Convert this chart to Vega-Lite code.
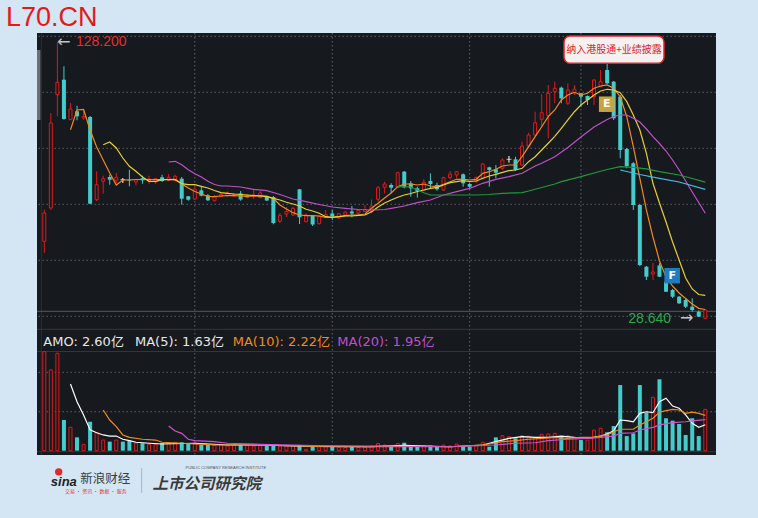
{
"$schema": "https://vega.github.io/schema/vega-lite/v6.json",
"width": 679, "height": 422,
"autosize": {"type": "none"},
"padding": {"left": 37, "top": 33, "right": 42, "bottom": 63},
"background": "#d4e6f4",
"config": {"view": {"fill": "#16191e", "stroke": null}},
"title": {"text": "L70.CN", "anchor": "start", "frame": "group", "dx": -31, "offset": 1, "color": "#e31a1a", "font": "Liberation Sans", "fontSize": 27, "fontWeight": "normal"},
"datasets": {
"k": [
{"i":0,"o":56.44,"h":67.82,"l":52.23,"c":66.63,"v":6.23,"d":"u","vd":"u"},
{"i":1,"o":68.43,"h":102.64,"l":67.71,"c":99.04,"v":5.08,"d":"u","vd":"u"},
{"i":2,"o":109.23,"h":128.2,"l":101.45,"c":113.69,"v":6.13,"d":"u","vd":"u"},
{"i":3,"o":114.63,"h":119.45,"l":100.23,"c":100.48,"v":1.93,"d":"d","vd":"d"},
{"i":4,"o":100.23,"h":106.24,"l":100.12,"c":104.08,"v":1.47,"d":"u","vd":"u"},
{"i":5,"o":103.25,"h":105.26,"l":100.01,"c":101.45,"v":0.84,"d":"d","vd":"d"},
{"i":6,"o":100.84,"h":103.25,"l":100.23,"c":101.38,"v":0.40,"d":"u","vd":"u"},
{"i":7,"o":101.20,"h":101.56,"l":69.87,"c":69.98,"v":1.82,"d":"d","vd":"d"},
{"i":8,"o":71.42,"h":81.64,"l":70.95,"c":76.82,"v":1.13,"d":"u","vd":"u"},
{"i":9,"o":78.04,"h":80.06,"l":73.58,"c":78.98,"v":0.67,"d":"u","vd":"u"},
{"i":10,"o":79.59,"h":80.42,"l":76.82,"c":78.62,"v":0.57,"d":"d","vd":"d"},
{"i":11,"o":78.40,"h":81.03,"l":77.43,"c":79.48,"v":0.67,"d":"u","vd":"u"},
{"i":12,"o":78.62,"h":79.23,"l":77.43,"c":78.62,"v":0.57,"d":"f","vd":"d"},
{"i":13,"o":78.69,"h":82.22,"l":76.24,"c":78.33,"v":0.63,"d":"d","vd":"d"},
{"i":14,"o":77.79,"h":78.69,"l":76.60,"c":78.62,"v":0.47,"d":"u","vd":"u"},
{"i":15,"o":79.12,"h":80.06,"l":77.18,"c":78.40,"v":0.47,"d":"d","vd":"d"},
{"i":16,"o":78.15,"h":80.06,"l":77.18,"c":78.87,"v":0.40,"d":"u","vd":"u"},
{"i":17,"o":77.79,"h":79.23,"l":77.18,"c":78.98,"v":0.40,"d":"u","vd":"u"},
{"i":18,"o":79.48,"h":80.42,"l":77.79,"c":78.15,"v":0.47,"d":"d","vd":"d"},
{"i":19,"o":78.40,"h":80.67,"l":78.04,"c":79.48,"v":0.47,"d":"u","vd":"u"},
{"i":20,"o":78.40,"h":80.42,"l":78.04,"c":79.84,"v":0.53,"d":"u","vd":"u"},
{"i":21,"o":78.98,"h":79.59,"l":69.62,"c":71.78,"v":0.53,"d":"d","vd":"d"},
{"i":22,"o":72.64,"h":72.75,"l":71.06,"c":71.42,"v":0.47,"d":"d","vd":"d"},
{"i":23,"o":71.67,"h":76.24,"l":71.31,"c":75.27,"v":0.47,"d":"u","vd":"u"},
{"i":24,"o":74.80,"h":75.99,"l":72.64,"c":72.86,"v":0.36,"d":"d","vd":"d"},
{"i":25,"o":73.00,"h":73.47,"l":70.95,"c":71.20,"v":0.36,"d":"d","vd":"d"},
{"i":26,"o":71.06,"h":73.11,"l":70.77,"c":72.57,"v":0.36,"d":"u","vd":"u"},
{"i":27,"o":72.64,"h":73.83,"l":72.39,"c":73.29,"v":0.36,"d":"u","vd":"u"},
{"i":28,"o":72.93,"h":74.37,"l":72.57,"c":73.83,"v":0.30,"d":"u","vd":"u"},
{"i":29,"o":72.75,"h":73.83,"l":72.39,"c":73.29,"v":0.36,"d":"u","vd":"u"},
{"i":30,"o":73.65,"h":74.55,"l":71.06,"c":71.49,"v":0.36,"d":"d","vd":"d"},
{"i":31,"o":72.21,"h":73.47,"l":71.85,"c":72.93,"v":0.36,"d":"u","vd":"u"},
{"i":32,"o":72.57,"h":75.09,"l":71.67,"c":73.11,"v":0.30,"d":"u","vd":"u"},
{"i":33,"o":72.21,"h":74.55,"l":71.85,"c":73.83,"v":0.36,"d":"u","vd":"u"},
{"i":34,"o":72.50,"h":72.93,"l":70.95,"c":71.13,"v":0.30,"d":"d","vd":"d"},
{"i":35,"o":72.39,"h":72.75,"l":62.56,"c":63.03,"v":0.30,"d":"d","vd":"d"},
{"i":36,"o":63.64,"h":66.63,"l":63.03,"c":65.80,"v":0.30,"d":"u","vd":"u"},
{"i":37,"o":66.27,"h":68.79,"l":65.19,"c":67.17,"v":0.30,"d":"u","vd":"u"},
{"i":38,"o":65.91,"h":68.90,"l":65.55,"c":68.32,"v":0.30,"d":"u","vd":"u"},
{"i":39,"o":75.16,"h":75.27,"l":62.67,"c":65.08,"v":0.36,"d":"d","vd":"d"},
{"i":40,"o":63.50,"h":66.45,"l":63.21,"c":65.91,"v":0.09,"d":"u","vd":"u"},
{"i":41,"o":65.55,"h":65.73,"l":61.95,"c":62.49,"v":0.25,"d":"d","vd":"d"},
{"i":42,"o":62.78,"h":65.73,"l":62.49,"c":65.44,"v":0.25,"d":"u","vd":"u"},
{"i":43,"o":65.08,"h":67.71,"l":64.83,"c":66.02,"v":0.25,"d":"u","vd":"u"},
{"i":44,"o":66.45,"h":67.71,"l":64.11,"c":65.37,"v":0.25,"d":"d","vd":"d"},
{"i":45,"o":64.83,"h":66.63,"l":64.47,"c":66.38,"v":0.22,"d":"u","vd":"u"},
{"i":46,"o":65.91,"h":67.35,"l":65.55,"c":66.99,"v":0.20,"d":"u","vd":"u"},
{"i":47,"o":67.17,"h":69.15,"l":65.08,"c":66.45,"v":0.25,"d":"d","vd":"d"},
{"i":48,"o":66.52,"h":68.07,"l":66.27,"c":67.60,"v":0.20,"d":"u","vd":"u"},
{"i":49,"o":67.17,"h":69.51,"l":66.99,"c":67.89,"v":0.22,"d":"u","vd":"u"},
{"i":50,"o":67.10,"h":71.49,"l":66.52,"c":69.15,"v":0.30,"d":"u","vd":"u"},
{"i":51,"o":71.56,"h":76.35,"l":70.70,"c":75.74,"v":0.45,"d":"u","vd":"u"},
{"i":52,"o":75.88,"h":77.90,"l":73.72,"c":77.07,"v":0.35,"d":"u","vd":"u"},
{"i":53,"o":76.71,"h":77.32,"l":73.72,"c":75.74,"v":0.28,"d":"d","vd":"d"},
{"i":54,"o":75.88,"h":81.50,"l":75.52,"c":81.14,"v":0.45,"d":"u","vd":"u"},
{"i":55,"o":81.50,"h":81.75,"l":75.52,"c":75.88,"v":0.50,"d":"d","vd":"d"},
{"i":56,"o":77.32,"h":78.15,"l":72.50,"c":75.52,"v":0.30,"d":"d","vd":"d"},
{"i":57,"o":75.52,"h":76.10,"l":72.14,"c":74.55,"v":0.28,"d":"d","vd":"d"},
{"i":58,"o":74.91,"h":78.87,"l":74.55,"c":77.68,"v":0.30,"d":"u","vd":"u"},
{"i":59,"o":78.15,"h":80.92,"l":75.52,"c":77.07,"v":0.32,"d":"d","vd":"d"},
{"i":60,"o":76.71,"h":77.54,"l":74.66,"c":75.16,"v":0.25,"d":"d","vd":"d"},
{"i":61,"o":74.91,"h":79.70,"l":74.55,"c":79.34,"v":0.35,"d":"u","vd":"u"},
{"i":62,"o":79.34,"h":81.75,"l":78.76,"c":80.67,"v":0.30,"d":"u","vd":"u"},
{"i":63,"o":80.31,"h":81.75,"l":79.12,"c":81.50,"v":0.42,"d":"u","vd":"u"},
{"i":64,"o":80.56,"h":80.85,"l":76.10,"c":77.32,"v":0.25,"d":"d","vd":"d"},
{"i":65,"o":77.07,"h":77.54,"l":75.16,"c":76.10,"v":0.25,"d":"d","vd":"d"},
{"i":66,"o":77.90,"h":79.70,"l":77.54,"c":79.48,"v":0.30,"d":"u","vd":"u"},
{"i":67,"o":79.12,"h":84.52,"l":78.76,"c":84.27,"v":0.53,"d":"u","vd":"u"},
{"i":68,"o":83.08,"h":83.30,"l":76.10,"c":82.11,"v":0.25,"d":"d","vd":"d"},
{"i":69,"o":82.36,"h":83.91,"l":79.12,"c":81.14,"v":0.84,"d":"d","vd":"d"},
{"i":70,"o":82.72,"h":86.32,"l":82.11,"c":85.71,"v":0.94,"d":"u","vd":"u"},
{"i":71,"o":85.96,"h":87.15,"l":84.74,"c":85.96,"v":0.88,"d":"f","vd":"u"},
{"i":72,"o":85.96,"h":86.90,"l":81.86,"c":82.11,"v":0.78,"d":"d","vd":"d"},
{"i":73,"o":83.91,"h":92.30,"l":83.55,"c":90.75,"v":0.94,"d":"u","vd":"u"},
{"i":74,"o":90.75,"h":95.54,"l":89.93,"c":94.71,"v":0.92,"d":"u","vd":"u"},
{"i":75,"o":94.71,"h":103.10,"l":94.35,"c":99.14,"v":0.84,"d":"u","vd":"u"},
{"i":76,"o":100.37,"h":109.37,"l":97.70,"c":102.74,"v":1.03,"d":"u","vd":"u"},
{"i":77,"o":101.74,"h":112.72,"l":93.53,"c":109.73,"v":1.05,"d":"u","vd":"u"},
{"i":78,"o":110.33,"h":113.93,"l":106.13,"c":111.55,"v":1.09,"d":"u","vd":"u"},
{"i":79,"o":111.75,"h":112.11,"l":106.13,"c":107.93,"v":0.92,"d":"d","vd":"d"},
{"i":80,"o":106.13,"h":113.33,"l":105.52,"c":110.92,"v":0.94,"d":"u","vd":"u"},
{"i":81,"o":109.95,"h":112.72,"l":109.12,"c":111.17,"v":0.84,"d":"u","vd":"u"},
{"i":82,"o":109.73,"h":109.84,"l":104.90,"c":108.51,"v":0.67,"d":"d","vd":"d"},
{"i":83,"o":108.75,"h":108.93,"l":105.52,"c":107.32,"v":0.67,"d":"d","vd":"u"},
{"i":84,"o":108.51,"h":114.78,"l":105.52,"c":114.52,"v":1.30,"d":"u","vd":"u"},
{"i":85,"o":112.11,"h":118.11,"l":112.00,"c":113.91,"v":1.41,"d":"u","vd":"u"},
{"i":86,"o":118.11,"h":120.52,"l":113.08,"c":113.33,"v":1.16,"d":"d","vd":"d"},
{"i":87,"o":113.91,"h":114.16,"l":100.12,"c":100.73,"v":1.55,"d":"d","vd":"d"},
{"i":88,"o":108.51,"h":109.12,"l":86.32,"c":89.31,"v":4.13,"d":"d","vd":"d"},
{"i":89,"o":89.67,"h":90.03,"l":82.72,"c":83.55,"v":0.92,"d":"d","vd":"d"},
{"i":90,"o":84.52,"h":84.99,"l":67.71,"c":69.51,"v":1.09,"d":"d","vd":"d"},
{"i":91,"o":69.51,"h":69.87,"l":47.55,"c":47.91,"v":4.13,"d":"d","vd":"d"},
{"i":92,"o":47.29,"h":47.55,"l":42.50,"c":43.69,"v":2.39,"d":"d","vd":"d"},
{"i":93,"o":44.66,"h":48.63,"l":42.50,"c":45.38,"v":3.36,"d":"u","vd":"u"},
{"i":94,"o":47.73,"h":48.52,"l":43.58,"c":43.69,"v":4.49,"d":"d","vd":"d"},
{"i":95,"o":41.89,"h":42.14,"l":38.18,"c":38.29,"v":2.04,"d":"d","vd":"d"},
{"i":96,"o":38.90,"h":39.26,"l":36.02,"c":36.49,"v":1.89,"d":"d","vd":"d"},
{"i":97,"o":36.49,"h":36.74,"l":33.86,"c":34.11,"v":1.68,"d":"d","vd":"d"},
{"i":98,"o":35.30,"h":35.92,"l":32.42,"c":32.89,"v":0.99,"d":"d","vd":"d"},
{"i":99,"o":32.89,"h":35.92,"l":31.09,"c":31.70,"v":2.04,"d":"d","vd":"d"},
{"i":100,"o":31.09,"h":31.53,"l":29.18,"c":29.29,"v":0.92,"d":"d","vd":"d"},
{"i":101,"o":28.71,"h":31.70,"l":28.64,"c":31.70,"v":2.60,"d":"u","vd":"u"}
],
"ma": [
{"i":4,"k":"MA5","p":96.62},{"i":5,"k":"MA5","p":103.72},{"i":6,"k":"MA5","p":103.90},{"i":7,"k":"MA5","p":96.51},{"i":8,"k":"MA5","p":90.39},{"i":9,"k":"MA5","p":85.71},{"i":10,"k":"MA5","p":81.03},{"i":11,"k":"MA5","p":76.71},{"i":12,"k":"MA5","p":78.51},{"i":13,"k":"MA5","p":78.51},{"i":14,"k":"MA5","p":78.69},{"i":15,"k":"MA5","p":78.69},{"i":16,"k":"MA5","p":78.69},{"i":17,"k":"MA5","p":78.69},{"i":18,"k":"MA5","p":78.69},{"i":19,"k":"MA5","p":78.69},{"i":20,"k":"MA5","p":78.76},{"i":21,"k":"MA5","p":77.07},{"i":22,"k":"MA5","p":75.63},{"i":23,"k":"MA5","p":74.37},{"i":24,"k":"MA5","p":73.47},{"i":25,"k":"MA5","p":72.57},{"i":26,"k":"MA5","p":72.50},{"i":27,"k":"MA5","p":72.75},{"i":28,"k":"MA5","p":72.90},{"i":29,"k":"MA5","p":72.90},{"i":30,"k":"MA5","p":72.75},{"i":31,"k":"MA5","p":72.60},{"i":32,"k":"MA5","p":72.80},{"i":33,"k":"MA5","p":72.90},{"i":34,"k":"MA5","p":72.60},{"i":35,"k":"MA5","p":71.92},{"i":36,"k":"MA5","p":69.51},{"i":37,"k":"MA5","p":68.07},{"i":38,"k":"MA5","p":66.74},{"i":39,"k":"MA5","p":65.91},{"i":40,"k":"MA5","p":65.66},{"i":41,"k":"MA5","p":65.66},{"i":42,"k":"MA5","p":65.55},{"i":43,"k":"MA5","p":65.08},{"i":44,"k":"MA5","p":65.08},{"i":45,"k":"MA5","p":65.30},{"i":46,"k":"MA5","p":65.66},{"i":47,"k":"MA5","p":65.91},{"i":48,"k":"MA5","p":65.91},{"i":49,"k":"MA5","p":66.27},{"i":50,"k":"MA5","p":68.32},{"i":51,"k":"MA5","p":70.12},{"i":52,"k":"MA5","p":72.03},{"i":53,"k":"MA5","p":73.83},{"i":54,"k":"MA5","p":76.10},{"i":55,"k":"MA5","p":77.07},{"i":56,"k":"MA5","p":77.07},{"i":57,"k":"MA5","p":76.71},{"i":58,"k":"MA5","p":77.07},{"i":59,"k":"MA5","p":76.35},{"i":60,"k":"MA5","p":76.10},{"i":61,"k":"MA5","p":76.96},{"i":62,"k":"MA5","p":77.90},{"i":63,"k":"MA5","p":78.76},{"i":64,"k":"MA5","p":78.76},{"i":65,"k":"MA5","p":78.51},{"i":66,"k":"MA5","p":78.76},{"i":67,"k":"MA5","p":80.92},{"i":68,"k":"MA5","p":81.50},{"i":69,"k":"MA5","p":82.36},{"i":70,"k":"MA5","p":83.55},{"i":71,"k":"MA5","p":83.91},{"i":72,"k":"MA5","p":83.91},{"i":73,"k":"MA5","p":86.90},{"i":74,"k":"MA5","p":90.50},{"i":75,"k":"MA5","p":94.10},{"i":76,"k":"MA5","p":97.70},{"i":77,"k":"MA5","p":101.30},{"i":78,"k":"MA5","p":103.72},{"i":79,"k":"MA5","p":107.32},{"i":80,"k":"MA5","p":109.12},{"i":81,"k":"MA5","p":110.09},{"i":82,"k":"MA5","p":109.12},{"i":83,"k":"MA5","p":109.73},{"i":84,"k":"MA5","p":111.53},{"i":85,"k":"MA5","p":112.36},{"i":86,"k":"MA5","p":112.72},{"i":87,"k":"MA5","p":111.53},{"i":88,"k":"MA5","p":108.51},{"i":89,"k":"MA5","p":101.30},{"i":90,"k":"MA5","p":90.50},{"i":91,"k":"MA5","p":79.10},{"i":92,"k":"MA5","p":67.71},{"i":93,"k":"MA5","p":57.99},{"i":94,"k":"MA5","p":49.35},{"i":95,"k":"MA5","p":43.58},{"i":96,"k":"MA5","p":40.34},{"i":97,"k":"MA5","p":37.82},{"i":98,"k":"MA5","p":35.84},{"i":99,"k":"MA5","p":33.86},{"i":100,"k":"MA5","p":32.31},{"i":101,"k":"MA5","p":31.88},
{"i":9,"k":"MA10","p":91.22},{"i":10,"k":"MA10","p":92.19},{"i":11,"k":"MA10","p":90.03},{"i":12,"k":"MA10","p":86.43},{"i":13,"k":"MA10","p":83.44},{"i":14,"k":"MA10","p":81.64},{"i":15,"k":"MA10","p":79.59},{"i":16,"k":"MA10","p":78.04},{"i":17,"k":"MA10","p":78.04},{"i":18,"k":"MA10","p":78.62},{"i":19,"k":"MA10","p":78.62},{"i":20,"k":"MA10","p":78.62},{"i":21,"k":"MA10","p":77.18},{"i":22,"k":"MA10","p":76.82},{"i":23,"k":"MA10","p":76.82},{"i":24,"k":"MA10","p":76.24},{"i":25,"k":"MA10","p":75.63},{"i":26,"k":"MA10","p":74.73},{"i":27,"k":"MA10","p":73.94},{"i":28,"k":"MA10","p":73.72},{"i":29,"k":"MA10","p":73.47},{"i":30,"k":"MA10","p":73.29},{"i":31,"k":"MA10","p":73.11},{"i":32,"k":"MA10","p":72.93},{"i":33,"k":"MA10","p":72.75},{"i":34,"k":"MA10","p":72.50},{"i":35,"k":"MA10","p":71.92},{"i":36,"k":"MA10","p":71.31},{"i":37,"k":"MA10","p":70.48},{"i":38,"k":"MA10","p":69.87},{"i":39,"k":"MA10","p":69.15},{"i":40,"k":"MA10","p":67.96},{"i":41,"k":"MA10","p":67.35},{"i":42,"k":"MA10","p":66.52},{"i":43,"k":"MA10","p":65.30},{"i":44,"k":"MA10","p":65.08},{"i":45,"k":"MA10","p":65.30},{"i":46,"k":"MA10","p":65.55},{"i":47,"k":"MA10","p":65.55},{"i":48,"k":"MA10","p":65.80},{"i":49,"k":"MA10","p":65.91},{"i":50,"k":"MA10","p":67.10},{"i":51,"k":"MA10","p":68.79},{"i":52,"k":"MA10","p":70.23},{"i":53,"k":"MA10","p":71.31},{"i":54,"k":"MA10","p":72.28},{"i":55,"k":"MA10","p":73.11},{"i":56,"k":"MA10","p":73.65},{"i":57,"k":"MA10","p":74.37},{"i":58,"k":"MA10","p":74.91},{"i":59,"k":"MA10","p":75.52},{"i":60,"k":"MA10","p":75.88},{"i":61,"k":"MA10","p":76.71},{"i":62,"k":"MA10","p":77.54},{"i":63,"k":"MA10","p":77.90},{"i":64,"k":"MA10","p":78.26},{"i":65,"k":"MA10","p":77.97},{"i":66,"k":"MA10","p":78.15},{"i":67,"k":"MA10","p":79.12},{"i":68,"k":"MA10","p":79.95},{"i":69,"k":"MA10","p":80.56},{"i":70,"k":"MA10","p":81.28},{"i":71,"k":"MA10","p":81.86},{"i":72,"k":"MA10","p":82.11},{"i":73,"k":"MA10","p":82.72},{"i":74,"k":"MA10","p":85.10},{"i":75,"k":"MA10","p":86.90},{"i":76,"k":"MA10","p":89.31},{"i":77,"k":"MA10","p":91.73},{"i":78,"k":"MA10","p":94.25},{"i":79,"k":"MA10","p":97.13},{"i":80,"k":"MA10","p":100.12},{"i":81,"k":"MA10","p":103.10},{"i":82,"k":"MA10","p":105.52},{"i":83,"k":"MA10","p":107.32},{"i":84,"k":"MA10","p":109.12},{"i":85,"k":"MA10","p":110.56},{"i":86,"k":"MA10","p":111.17},{"i":87,"k":"MA10","p":110.92},{"i":88,"k":"MA10","p":109.95},{"i":89,"k":"MA10","p":106.71},{"i":90,"k":"MA10","p":101.92},{"i":91,"k":"MA10","p":96.51},{"i":92,"k":"MA10","p":88.12},{"i":93,"k":"MA10","p":77.32},{"i":94,"k":"MA10","p":70.23},{"i":95,"k":"MA10","p":63.39},{"i":96,"k":"MA10","p":56.19},{"i":97,"k":"MA10","p":49.71},{"i":98,"k":"MA10","p":43.22},{"i":99,"k":"MA10","p":39.27},{"i":100,"k":"MA10","p":37.29},{"i":101,"k":"MA10","p":37.00},
{"i":19,"k":"MA20","p":84.99},{"i":20,"k":"MA20","p":85.24},{"i":21,"k":"MA20","p":84.03},{"i":22,"k":"MA20","p":82.22},{"i":23,"k":"MA20","p":80.78},{"i":24,"k":"MA20","p":79.59},{"i":25,"k":"MA20","p":78.04},{"i":26,"k":"MA20","p":76.89},{"i":27,"k":"MA20","p":76.35},{"i":28,"k":"MA20","p":76.35},{"i":30,"k":"MA20","p":75.99},{"i":32,"k":"MA20","p":75.16},{"i":34,"k":"MA20","p":74.66},{"i":36,"k":"MA20","p":73.29},{"i":38,"k":"MA20","p":71.67},{"i":40,"k":"MA20","p":70.70},{"i":42,"k":"MA20","p":69.69},{"i":44,"k":"MA20","p":68.79},{"i":46,"k":"MA20","p":68.32},{"i":48,"k":"MA20","p":67.89},{"i":50,"k":"MA20","p":67.71},{"i":52,"k":"MA20","p":67.89},{"i":53,"k":"MA20","p":68.32},{"i":55,"k":"MA20","p":69.15},{"i":57,"k":"MA20","p":70.34},{"i":59,"k":"MA20","p":71.31},{"i":61,"k":"MA20","p":73.11},{"i":63,"k":"MA20","p":74.30},{"i":65,"k":"MA20","p":75.52},{"i":67,"k":"MA20","p":77.32},{"i":69,"k":"MA20","p":78.76},{"i":71,"k":"MA20","p":79.70},{"i":73,"k":"MA20","p":80.92},{"i":75,"k":"MA20","p":83.55},{"i":76,"k":"MA20","p":84.52},{"i":78,"k":"MA20","p":86.90},{"i":80,"k":"MA20","p":90.21},{"i":82,"k":"MA20","p":93.99},{"i":84,"k":"MA20","p":97.59},{"i":86,"k":"MA20","p":100.30},{"i":87,"k":"MA20","p":101.38},{"i":88,"k":"MA20","p":101.92},{"i":89,"k":"MA20","p":101.92},{"i":90,"k":"MA20","p":100.73},{"i":91,"k":"MA20","p":99.40},{"i":92,"k":"MA20","p":96.87},{"i":93,"k":"MA20","p":94.10},{"i":94,"k":"MA20","p":91.65},{"i":95,"k":"MA20","p":88.95},{"i":96,"k":"MA20","p":85.71},{"i":97,"k":"MA20","p":82.11},{"i":98,"k":"MA20","p":78.15},{"i":99,"k":"MA20","p":74.19},{"i":100,"k":"MA20","p":70.41},{"i":101,"k":"MA20","p":66.52},
{"i":54,"k":"MA60","p":76.10},{"i":56,"k":"MA60","p":75.99},{"i":58,"k":"MA60","p":73.94},{"i":59,"k":"MA60","p":73.11},{"i":62,"k":"MA60","p":73.11},{"i":66,"k":"MA60","p":73.11},{"i":68,"k":"MA60","p":73.29},{"i":70,"k":"MA60","p":73.72},{"i":73,"k":"MA60","p":73.94},{"i":74,"k":"MA60","p":74.55},{"i":76,"k":"MA60","p":75.81},{"i":78,"k":"MA60","p":77.07},{"i":79,"k":"MA60","p":77.90},{"i":82,"k":"MA60","p":79.70},{"i":84,"k":"MA60","p":81.03},{"i":86,"k":"MA60","p":82.29},{"i":88,"k":"MA60","p":83.30},{"i":90,"k":"MA60","p":83.08},{"i":92,"k":"MA60","p":82.54},{"i":94,"k":"MA60","p":81.50},{"i":97,"k":"MA60","p":80.31},{"i":99,"k":"MA60","p":79.05},{"i":101,"k":"MA60","p":77.72},
{"i":88,"k":"MA120","p":82.11},{"i":91,"k":"MA120","p":80.49},{"i":94,"k":"MA120","p":79.12},{"i":97,"k":"MA120","p":77.79},{"i":101,"k":"MA120","p":75.16}
],
"vma": [
{"i":4,"k":"VMA5","v":4.19},{"i":5,"k":"VMA5","v":3.08},{"i":6,"k":"VMA5","v":2.25},{"i":7,"k":"VMA5","v":1.31},{"i":8,"k":"VMA5","v":1.13},{"i":9,"k":"VMA5","v":0.99},{"i":10,"k":"VMA5","v":0.92},{"i":11,"k":"VMA5","v":0.92},{"i":12,"k":"VMA5","v":0.72},{"i":13,"k":"VMA5","v":0.63},{"i":14,"k":"VMA5","v":0.53},{"i":16,"k":"VMA5","v":0.47},{"i":18,"k":"VMA5","v":0.42},{"i":23,"k":"VMA5","v":0.47},{"i":28,"k":"VMA5","v":0.36},{"i":33,"k":"VMA5","v":0.36},{"i":38,"k":"VMA5","v":0.30},{"i":43,"k":"VMA5","v":0.27},{"i":50,"k":"VMA5","v":0.26},{"i":55,"k":"VMA5","v":0.33},{"i":62,"k":"VMA5","v":0.25},{"i":67,"k":"VMA5","v":0.36},{"i":69,"k":"VMA5","v":0.57},{"i":71,"k":"VMA5","v":0.78},{"i":73,"k":"VMA5","v":0.88},{"i":75,"k":"VMA5","v":0.84},{"i":77,"k":"VMA5","v":0.84},{"i":79,"k":"VMA5","v":0.92},{"i":81,"k":"VMA5","v":0.84},{"i":83,"k":"VMA5","v":0.78},{"i":85,"k":"VMA5","v":0.92},{"i":86,"k":"VMA5","v":1.05},{"i":87,"k":"VMA5","v":1.25},{"i":88,"k":"VMA5","v":1.93},{"i":89,"k":"VMA5","v":1.89},{"i":90,"k":"VMA5","v":1.82},{"i":91,"k":"VMA5","v":2.35},{"i":92,"k":"VMA5","v":2.45},{"i":93,"k":"VMA5","v":2.39},{"i":94,"k":"VMA5","v":3.08},{"i":95,"k":"VMA5","v":3.30},{"i":96,"k":"VMA5","v":2.81},{"i":97,"k":"VMA5","v":2.67},{"i":98,"k":"VMA5","v":2.25},{"i":99,"k":"VMA5","v":1.72},{"i":100,"k":"VMA5","v":1.47},{"i":101,"k":"VMA5","v":1.63},
{"i":9,"k":"VMA10","v":2.56},{"i":10,"k":"VMA10","v":1.93},{"i":11,"k":"VMA10","v":1.51},{"i":12,"k":"VMA10","v":0.99},{"i":13,"k":"VMA10","v":0.84},{"i":15,"k":"VMA10","v":0.72},{"i":17,"k":"VMA10","v":0.67},{"i":18,"k":"VMA10","v":0.53},{"i":21,"k":"VMA10","v":0.47},{"i":26,"k":"VMA10","v":0.36},{"i":33,"k":"VMA10","v":0.36},{"i":38,"k":"VMA10","v":0.31},{"i":43,"k":"VMA10","v":0.25},{"i":55,"k":"VMA10","v":0.26},{"i":62,"k":"VMA10","v":0.25},{"i":67,"k":"VMA10","v":0.36},{"i":70,"k":"VMA10","v":0.57},{"i":72,"k":"VMA10","v":0.63},{"i":74,"k":"VMA10","v":0.72},{"i":76,"k":"VMA10","v":0.78},{"i":78,"k":"VMA10","v":0.84},{"i":80,"k":"VMA10","v":0.78},{"i":82,"k":"VMA10","v":0.84},{"i":84,"k":"VMA10","v":0.84},{"i":86,"k":"VMA10","v":0.99},{"i":87,"k":"VMA10","v":1.19},{"i":88,"k":"VMA10","v":1.35},{"i":90,"k":"VMA10","v":1.35},{"i":91,"k":"VMA10","v":1.62},{"i":92,"k":"VMA10","v":1.82},{"i":93,"k":"VMA10","v":2.04},{"i":94,"k":"VMA10","v":2.42},{"i":95,"k":"VMA10","v":2.52},{"i":96,"k":"VMA10","v":2.60},{"i":97,"k":"VMA10","v":2.56},{"i":98,"k":"VMA10","v":2.35},{"i":99,"k":"VMA10","v":2.42},{"i":100,"k":"VMA10","v":2.35},{"i":101,"k":"VMA10","v":2.22},
{"i":19,"k":"VMA20","v":1.55},{"i":20,"k":"VMA20","v":1.24},{"i":21,"k":"VMA20","v":1.09},{"i":22,"k":"VMA20","v":0.72},{"i":23,"k":"VMA20","v":0.63},{"i":26,"k":"VMA20","v":0.57},{"i":28,"k":"VMA20","v":0.47},{"i":33,"k":"VMA20","v":0.40},{"i":38,"k":"VMA20","v":0.36},{"i":43,"k":"VMA20","v":0.31},{"i":55,"k":"VMA20","v":0.28},{"i":62,"k":"VMA20","v":0.25},{"i":69,"k":"VMA20","v":0.36},{"i":72,"k":"VMA20","v":0.47},{"i":75,"k":"VMA20","v":0.50},{"i":77,"k":"VMA20","v":0.63},{"i":80,"k":"VMA20","v":0.72},{"i":83,"k":"VMA20","v":0.78},{"i":85,"k":"VMA20","v":0.84},{"i":87,"k":"VMA20","v":0.92},{"i":88,"k":"VMA20","v":1.09},{"i":90,"k":"VMA20","v":1.13},{"i":91,"k":"VMA20","v":1.30},{"i":93,"k":"VMA20","v":1.47},{"i":94,"k":"VMA20","v":1.62},{"i":96,"k":"VMA20","v":1.76},{"i":98,"k":"VMA20","v":1.82},{"i":99,"k":"VMA20","v":1.87},{"i":101,"k":"VMA20","v":1.95}
],
"ev": [
{"i":85.93,"p":105.8,"t":"E"},
{"i":95.94,"p":44.05,"t":"F"}
],
"xgrid": [{"g":23},{"g":44},{"g":65},{"g":82}],
"pgrid": [{"g":130.25},{"g":110.09},{"g":89.92},{"g":69.76},{"g":49.6},{"g":29.43}],
"vgrid": [{"g":4.93},{"g":2.45}]
},
"resolve": {"scale": {"y": "independent", "color": "independent"}},
"layer": [
{
"layer": [
{"data":{"name":"xgrid"},"mark":{"type":"rule","color":"#62676f","strokeDash":[1.5,2.5],"strokeWidth":1},"encoding":{"x":{"field":"g","type":"quantitative","scale":{"domain":[-1.115,102.635],"nice":false,"zero":false,"padding":0},"axis":null}}},
{"data":{"name":"pgrid"},"mark":{"type":"rule","color":"#5c6169","strokeDash":[1.5,2.5],"strokeWidth":1},"encoding":{"y":{"field":"g","type":"quantitative","scale":{"domain":[-20.51,131.44],"nice":false,"zero":false,"padding":0},"axis":null}}},
{"data":{"values":[{}]},"mark":{"type":"rect","fill":"#6c6f76"},"encoding":{"x":{"datum":-1.115,"type":"quantitative","scale":{"domain":[-1.115,102.635],"nice":false,"zero":false,"padding":0},"axis":null},"x2":{"datum":-0.58},"y":{"datum":125.32,"type":"quantitative","scale":{"domain":[-20.51,131.44],"nice":false,"zero":false,"padding":0},"axis":null},"y2":{"datum":100.11}}},
{"data":{"values":[{}]},"mark":{"type":"rule","color":"#2c2f36"},"encoding":{"x":{"datum":-0.458,"type":"quantitative","scale":{"domain":[-1.115,102.635],"nice":false,"zero":false,"padding":0},"axis":null}}},
{"data":{"values":[{}]},"mark":{"type":"rule","color":"#55585f"},"encoding":{"y":{"datum":31.23,"type":"quantitative","scale":{"domain":[-20.51,131.44],"nice":false,"zero":false,"padding":0},"axis":null}}},
{"data":{"values":[{}]},"mark":{"type":"rule","color":"#34373e"},"encoding":{"y":{"datum":24.75,"type":"quantitative","scale":{"domain":[-20.51,131.44],"nice":false,"zero":false,"padding":0},"axis":null}}},
{"data":{"values":[{}]},"mark":{"type":"rule","color":"#34373e"},"encoding":{"y":{"datum":16.76,"type":"quantitative","scale":{"domain":[-20.51,131.44],"nice":false,"zero":false,"padding":0},"axis":null}}},
{"data":{"name":"k"},"transform":[{"filter":{"field":"d","equal":"d"}}],"mark":{"type":"rule","color":"#44cccc","strokeWidth":1},"encoding":{"x":{"field":"i","type":"quantitative","scale":{"domain":[-1.115,102.635],"nice":false,"zero":false,"padding":0},"axis":null},"y":{"field":"l","type":"quantitative","scale":{"domain":[-20.51,131.44],"nice":false,"zero":false,"padding":0},"axis":null},"y2":{"field":"h"}}},
{"data":{"name":"k"},"transform":[{"filter":{"field":"d","equal":"u"}}],"mark":{"type":"rule","color":"#e0191b","strokeWidth":1},"encoding":{"x":{"field":"i","type":"quantitative","scale":{"domain":[-1.115,102.635],"nice":false,"zero":false,"padding":0},"axis":null},"y":{"field":"l","type":"quantitative","scale":{"domain":[-20.51,131.44],"nice":false,"zero":false,"padding":0},"axis":null},"y2":{"field":"h"}}},
{"data":{"name":"k"},"transform":[{"filter":{"field":"d","equal":"f"}}],"mark":{"type":"rule","color":"#ffffff","strokeWidth":1},"encoding":{"x":{"field":"i","type":"quantitative","scale":{"domain":[-1.115,102.635],"nice":false,"zero":false,"padding":0},"axis":null},"y":{"field":"l","type":"quantitative","scale":{"domain":[-20.51,131.44],"nice":false,"zero":false,"padding":0},"axis":null},"y2":{"field":"h"}}},
{"data":{"name":"k"},"transform":[{"filter":{"field":"d","equal":"d"}}],"mark":{"type":"bar","size":4,"color":"#44cccc"},"encoding":{"x":{"field":"i","type":"quantitative","scale":{"domain":[-1.115,102.635],"nice":false,"zero":false,"padding":0},"axis":null},"y":{"field":"o","type":"quantitative","scale":{"domain":[-20.51,131.44],"nice":false,"zero":false,"padding":0},"axis":null},"y2":{"field":"c"}}},
{"data":{"name":"k"},"transform":[{"filter":{"field":"d","equal":"u"}}],"mark":{"type":"bar","size":3,"fill":"#16191e","stroke":"#e0191b","strokeWidth":1},"encoding":{"x":{"field":"i","type":"quantitative","scale":{"domain":[-1.115,102.635],"nice":false,"zero":false,"padding":0},"axis":null},"y":{"field":"o","type":"quantitative","scale":{"domain":[-20.51,131.44],"nice":false,"zero":false,"padding":0},"axis":null},"y2":{"field":"c"}}},
{"data":{"name":"k"},"transform":[{"filter":{"field":"d","equal":"f"}}],"mark":{"type":"tick","orient":"horizontal","color":"#ffffff","size":5,"thickness":1},"encoding":{"x":{"field":"i","type":"quantitative","scale":{"domain":[-1.115,102.635],"nice":false,"zero":false,"padding":0},"axis":null},"y":{"field":"c","type":"quantitative","scale":{"domain":[-20.51,131.44],"nice":false,"zero":false,"padding":0},"axis":null}}},
{"data":{"name":"ma"},"mark":{"type":"line","strokeWidth":1.2},"encoding":{"x":{"field":"i","type":"quantitative","scale":{"domain":[-1.115,102.635],"nice":false,"zero":false,"padding":0},"axis":null},"y":{"field":"p","type":"quantitative","scale":{"domain":[-20.51,131.44],"nice":false,"zero":false,"padding":0},"axis":null},"color":{"field":"k","type":"nominal","scale":{"domain":["MA5","MA10","MA20","MA60","MA120"],"range":["#f28a1a","#e6d030","#c050c8","#1e9a3c","#3ec0e0"]},"legend":null}}},
{"data":{"name":"ev"},"mark":{"type":"square","size":240,"opacity":1},"encoding":{"x":{"field":"i","type":"quantitative","scale":{"domain":[-1.115,102.635],"nice":false,"zero":false,"padding":0},"axis":null},"y":{"field":"p","type":"quantitative","scale":{"domain":[-20.51,131.44],"nice":false,"zero":false,"padding":0},"axis":null},"fill":{"field":"t","type":"nominal","scale":{"domain":["E","F"],"range":["#c9a33e","#1f7dbf"]},"legend":null}}},
{"data":{"name":"ev"},"mark":{"type":"text","color":"#ffffff","fontSize":11,"fontWeight":"bold","font":"DejaVu Sans","align":"center","baseline":"middle"},"encoding":{"x":{"field":"i","type":"quantitative","scale":{"domain":[-1.115,102.635],"nice":false,"zero":false,"padding":0},"axis":null},"y":{"field":"p","type":"quantitative","scale":{"domain":[-20.51,131.44],"nice":false,"zero":false,"padding":0},"axis":null},"text":{"field":"t"}}},
{"data":{"values":[{}]},"mark":{"type":"rect","fill":"#f6f1f1","stroke":"#e02424","strokeWidth":1.5,"cornerRadius":6},"encoding":{"x":{"datum":79.41,"type":"quantitative","scale":{"domain":[-1.115,102.635],"nice":false,"zero":false,"padding":0},"axis":null},"x2":{"datum":94.69},"y":{"datum":130.36,"type":"quantitative","scale":{"domain":[-20.51,131.44],"nice":false,"zero":false,"padding":0},"axis":null},"y2":{"datum":120.53}}},
{"data":{"values":[{}]},"mark":{"type":"text","text":"纳入港股通+业绩披露","color":"#e02424","fontSize":10,"font":"Noto Sans CJK SC","align":"center","baseline":"middle"},"encoding":{"x":{"datum":87.05,"type":"quantitative","scale":{"domain":[-1.115,102.635],"nice":false,"zero":false,"padding":0},"axis":null},"y":{"datum":125.43,"type":"quantitative","scale":{"domain":[-20.51,131.44],"nice":false,"zero":false,"padding":0},"axis":null}}},
{"data":{"values":[{}]},"mark":{"type":"text","text":"←","color":"#c4c4c4","fontSize":16,"font":"DejaVu Sans","align":"left","baseline":"middle"},"encoding":{"x":{"datum":1.94,"type":"quantitative","scale":{"domain":[-1.115,102.635],"nice":false,"zero":false,"padding":0},"axis":null},"y":{"datum":128.31,"type":"quantitative","scale":{"domain":[-20.51,131.44],"nice":false,"zero":false,"padding":0},"axis":null}}},
{"data":{"values":[{}]},"mark":{"type":"text","text":"128.200","color":"#e03030","fontSize":14,"font":"Liberation Sans","align":"left","baseline":"middle"},"encoding":{"x":{"datum":4.84,"type":"quantitative","scale":{"domain":[-1.115,102.635],"nice":false,"zero":false,"padding":0},"axis":null},"y":{"datum":128.31,"type":"quantitative","scale":{"domain":[-20.51,131.44],"nice":false,"zero":false,"padding":0},"axis":null}}},
{"data":{"values":[{}]},"mark":{"type":"text","text":"28.640","color":"#2aa84a","fontSize":14,"font":"Liberation Sans","align":"left","baseline":"middle"},"encoding":{"x":{"datum":89.24,"type":"quantitative","scale":{"domain":[-1.115,102.635],"nice":false,"zero":false,"padding":0},"axis":null},"y":{"datum":28.35,"type":"quantitative","scale":{"domain":[-20.51,131.44],"nice":false,"zero":false,"padding":0},"axis":null}}},
{"data":{"values":[{}]},"mark":{"type":"text","text":"→","color":"#c4c4c4","fontSize":16,"font":"DejaVu Sans","align":"left","baseline":"middle"},"encoding":{"x":{"datum":97.13,"type":"quantitative","scale":{"domain":[-1.115,102.635],"nice":false,"zero":false,"padding":0},"axis":null},"y":{"datum":28.82,"type":"quantitative","scale":{"domain":[-20.51,131.44],"nice":false,"zero":false,"padding":0},"axis":null}}},
{"data":{"values":[{}]},"mark":{"type":"text","text":"AMO: 2.60亿","color":"#e8e8e8","fontSize":13,"font":"DejaVu Sans, Noto Sans CJK SC","align":"left","baseline":"middle"},"encoding":{"x":{"datum":-0.15,"type":"quantitative","scale":{"domain":[-1.115,102.635],"nice":false,"zero":false,"padding":0},"axis":null},"y":{"datum":20.28,"type":"quantitative","scale":{"domain":[-20.51,131.44],"nice":false,"zero":false,"padding":0},"axis":null}}},
{"data":{"values":[{}]},"mark":{"type":"text","text":"MA(5): 1.63亿","color":"#e8e8e8","fontSize":13,"font":"DejaVu Sans, Noto Sans CJK SC","align":"left","baseline":"middle"},"encoding":{"x":{"datum":13.86,"type":"quantitative","scale":{"domain":[-1.115,102.635],"nice":false,"zero":false,"padding":0},"axis":null},"y":{"datum":20.28,"type":"quantitative","scale":{"domain":[-20.51,131.44],"nice":false,"zero":false,"padding":0},"axis":null}}},
{"data":{"values":[{}]},"mark":{"type":"text","text":"MA(10): 2.22亿","color":"#f28a1a","fontSize":13,"font":"DejaVu Sans, Noto Sans CJK SC","align":"left","baseline":"middle"},"encoding":{"x":{"datum":28.79,"type":"quantitative","scale":{"domain":[-1.115,102.635],"nice":false,"zero":false,"padding":0},"axis":null},"y":{"datum":20.28,"type":"quantitative","scale":{"domain":[-20.51,131.44],"nice":false,"zero":false,"padding":0},"axis":null}}},
{"data":{"values":[{}]},"mark":{"type":"text","text":"MA(20): 1.95亿","color":"#c050c8","fontSize":13,"font":"DejaVu Sans, Noto Sans CJK SC","align":"left","baseline":"middle"},"encoding":{"x":{"datum":44.77,"type":"quantitative","scale":{"domain":[-1.115,102.635],"nice":false,"zero":false,"padding":0},"axis":null},"y":{"datum":20.28,"type":"quantitative","scale":{"domain":[-20.51,131.44],"nice":false,"zero":false,"padding":0},"axis":null}}}
]
},
{
"layer": [
{"data":{"name":"vgrid"},"mark":{"type":"rule","color":"#5c6169","strokeDash":[1.5,2.5],"strokeWidth":1},"encoding":{"y":{"field":"g","type":"quantitative","scale":{"domain":[-0.2704,26.27],"nice":false,"zero":false,"padding":0},"axis":null}}},
{"data":{"values":[{}]},"mark":{"type":"rule","color":"#34373e"},"encoding":{"y":{"datum":-0.063,"type":"quantitative","scale":{"domain":[-0.2704,26.27],"nice":false,"zero":false,"padding":0},"axis":null}}},
{"data":{"name":"k"},"transform":[{"filter":{"field":"vd","equal":"d"}}],"mark":{"type":"bar","size":4,"color":"#44cccc"},"encoding":{"x":{"field":"i","type":"quantitative","scale":{"domain":[-1.115,102.635],"nice":false,"zero":false,"padding":0},"axis":null},"y":{"field":"v","type":"quantitative","scale":{"domain":[-0.2704,26.27],"nice":false,"zero":false,"padding":0},"axis":null},"y2":{"datum":0}}},
{"data":{"name":"k"},"transform":[{"filter":{"field":"vd","equal":"u"}}],"mark":{"type":"bar","size":3,"fill":"#16191e","stroke":"#e0191b","strokeWidth":1},"encoding":{"x":{"field":"i","type":"quantitative","scale":{"domain":[-1.115,102.635],"nice":false,"zero":false,"padding":0},"axis":null},"y":{"field":"v","type":"quantitative","scale":{"domain":[-0.2704,26.27],"nice":false,"zero":false,"padding":0},"axis":null},"y2":{"datum":0}}},
{"data":{"name":"vma"},"mark":{"type":"line","strokeWidth":1.2},"encoding":{"x":{"field":"i","type":"quantitative","scale":{"domain":[-1.115,102.635],"nice":false,"zero":false,"padding":0},"axis":null},"y":{"field":"v","type":"quantitative","scale":{"domain":[-0.2704,26.27],"nice":false,"zero":false,"padding":0},"axis":null},"color":{"field":"k","type":"nominal","scale":{"domain":["VMA5","VMA10","VMA20"],"range":["#ffffff","#f28a1a","#d050d0"]},"legend":null}}},
{"data":{"values":[{}]},"mark":{"type":"circle","color":"#e5262a","size":55,"opacity":1},"encoding":{"x":{"datum":2.2,"type":"quantitative","scale":{"domain":[-1.115,102.635],"nice":false,"zero":false,"padding":0},"axis":null},"y":{"datum":-1.33,"type":"quantitative","scale":{"domain":[-0.2704,26.27],"nice":false,"zero":false,"padding":0},"axis":null}}},
{"data":{"values":[{}]},"mark":{"type":"text","text":"sina","color":"#1e1e1e","fontSize":13,"fontWeight":"bold","fontStyle":"italic","font":"Liberation Sans","align":"left","baseline":"middle"},"encoding":{"x":{"datum":1.0,"type":"quantitative","scale":{"domain":[-1.115,102.635],"nice":false,"zero":false,"padding":0},"axis":null},"y":{"datum":-1.95,"type":"quantitative","scale":{"domain":[-0.2704,26.27],"nice":false,"zero":false,"padding":0},"axis":null}}},
{"data":{"values":[{}]},"mark":{"type":"text","text":"新浪财经","color":"#3a3a3a","fontSize":12.5,"font":"Noto Sans CJK SC","align":"left","baseline":"middle"},"encoding":{"x":{"datum":5.5,"type":"quantitative","scale":{"domain":[-1.115,102.635],"nice":false,"zero":false,"padding":0},"axis":null},"y":{"datum":-1.80,"type":"quantitative","scale":{"domain":[-0.2704,26.27],"nice":false,"zero":false,"padding":0},"axis":null}}},
{"data":{"values":[{}]},"mark":{"type":"text","text":"交易 · 资讯 · 数据 · 服务","color":"#d83a3a","fontSize":5,"font":"Noto Sans CJK SC","align":"center","baseline":"middle"},"encoding":{"x":{"datum":7.87,"type":"quantitative","scale":{"domain":[-1.115,102.635],"nice":false,"zero":false,"padding":0},"axis":null},"y":{"datum":-2.53,"type":"quantitative","scale":{"domain":[-0.2704,26.27],"nice":false,"zero":false,"padding":0},"axis":null}}},
{"data":{"values":[{}]},"mark":{"type":"rule","color":"#a9b5c0"},"encoding":{"x":{"datum":14.88,"type":"quantitative","scale":{"domain":[-1.115,102.635],"nice":false,"zero":false,"padding":0},"axis":null},"y":{"datum":-1.088,"type":"quantitative","scale":{"domain":[-0.2704,26.27],"nice":false,"zero":false,"padding":0},"axis":null},"y2":{"datum":-2.66}}},
{"data":{"values":[{}]},"mark":{"type":"text","text":"上市公司研究院","color":"#3a3a3a","fontSize":15.5,"fontWeight":"bold","fontStyle":"italic","font":"Noto Sans CJK SC","align":"center","baseline":"middle"},"encoding":{"x":{"datum":24.81,"type":"quantitative","scale":{"domain":[-1.115,102.635],"nice":false,"zero":false,"padding":0},"axis":null},"y":{"datum":-2.12,"type":"quantitative","scale":{"domain":[-0.2704,26.27],"nice":false,"zero":false,"padding":0},"axis":null}}},
{"data":{"values":[{}]},"mark":{"type":"text","text":"PUBLIC COMPANY RESEARCH INSTITUTE","color":"#555555","fontSize":4,"font":"Liberation Sans","align":"center","baseline":"middle"},"encoding":{"x":{"datum":27.74,"type":"quantitative","scale":{"domain":[-1.115,102.635],"nice":false,"zero":false,"padding":0},"axis":null},"y":{"datum":-1.10,"type":"quantitative","scale":{"domain":[-0.2704,26.27],"nice":false,"zero":false,"padding":0},"axis":null}}}
]
}
]
}
